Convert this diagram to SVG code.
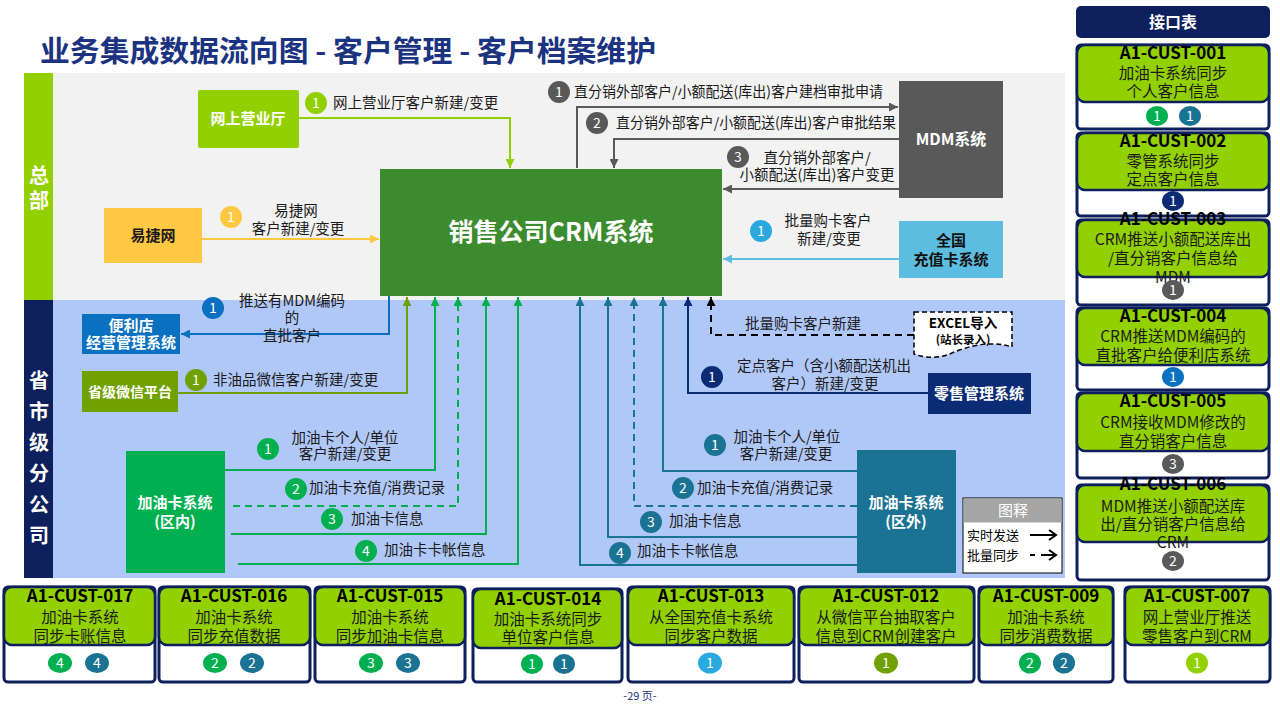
<svg xmlns="http://www.w3.org/2000/svg" width="1280" height="720" viewBox="0 0 1280 720">
<style>
text{font-family:"Noto Sans CJK SC","Microsoft YaHei",sans-serif}
.lbl{font-size:14.5px;fill:#1a1a1a}
.mid{text-anchor:middle}
.nt{font-size:15px;font-weight:bold;fill:#fff;text-anchor:middle}
.num{font-size:14px;fill:#fff;text-anchor:middle}
.code{font-size:17px;font-weight:bold;fill:#000;text-anchor:middle}
.ct{font-size:15.5px;fill:#1a1a1a;text-anchor:middle}
.outer{fill:#fff;stroke:#0d1f5c;stroke-width:3}
.inner{fill:#92d000;stroke:#0d1f5c;stroke-width:2.5}
.cn{fill:none;stroke-width:2}
.dash{stroke-dasharray:7 5}
</style>
<defs>
<marker id="mLime" viewBox="0 0 10 10" refX="10" refY="5" markerWidth="9" markerHeight="9" markerUnits="userSpaceOnUse" orient="auto"><path d="M0,0 L10,5 L0,10z" fill="#92d000"/></marker>
<marker id="mYel" viewBox="0 0 10 10" refX="10" refY="5" markerWidth="9" markerHeight="9" markerUnits="userSpaceOnUse" orient="auto"><path d="M0,0 L10,5 L0,10z" fill="#ffc843"/></marker>
<marker id="mGrey" viewBox="0 0 10 10" refX="10" refY="5" markerWidth="9" markerHeight="9" markerUnits="userSpaceOnUse" orient="auto"><path d="M0,0 L10,5 L0,10z" fill="#595959"/></marker>
<marker id="mSky" viewBox="0 0 10 10" refX="10" refY="5" markerWidth="9" markerHeight="9" markerUnits="userSpaceOnUse" orient="auto"><path d="M0,0 L10,5 L0,10z" fill="#5cbde0"/></marker>
<marker id="mBlue" viewBox="0 0 10 10" refX="10" refY="5" markerWidth="9" markerHeight="9" markerUnits="userSpaceOnUse" orient="auto"><path d="M0,0 L10,5 L0,10z" fill="#0a70c0"/></marker>
<marker id="mOlive" viewBox="0 0 10 10" refX="10" refY="5" markerWidth="9" markerHeight="9" markerUnits="userSpaceOnUse" orient="auto"><path d="M0,0 L10,5 L0,10z" fill="#70a100"/></marker>
<marker id="mGreen" viewBox="0 0 10 10" refX="10" refY="5" markerWidth="9" markerHeight="9" markerUnits="userSpaceOnUse" orient="auto"><path d="M0,0 L10,5 L0,10z" fill="#00b050"/></marker>
<marker id="mTeal" viewBox="0 0 10 10" refX="10" refY="5" markerWidth="9" markerHeight="9" markerUnits="userSpaceOnUse" orient="auto"><path d="M0,0 L10,5 L0,10z" fill="#1b7393"/></marker>
<marker id="mNavy" viewBox="0 0 10 10" refX="10" refY="5" markerWidth="9" markerHeight="9" markerUnits="userSpaceOnUse" orient="auto"><path d="M0,0 L10,5 L0,10z" fill="#0b2c75"/></marker>
<marker id="mBlack" viewBox="0 0 10 10" refX="10" refY="5" markerWidth="9" markerHeight="9" markerUnits="userSpaceOnUse" orient="auto"><path d="M0,0 L10,5 L0,10z" fill="#000"/></marker>
</defs>

<rect width="1280" height="720" fill="#fff"/>

<!-- title -->
<text x="40" y="62" font-size="29" font-weight="bold" fill="#1b3380" textLength="616" lengthAdjust="spacingAndGlyphs">业务集成数据流向图 - 客户管理 - 客户档案维护</text>

<!-- background zones -->
<g id="zones">
<rect x="53" y="73" width="1012" height="227" fill="#f2f2f2"/>
<rect x="53" y="300" width="1012" height="278" fill="#b0c8f8"/>
<rect x="24" y="73" width="29" height="227" fill="#92d000"/>
<rect x="24" y="300" width="29" height="278" fill="#0d1f5c"/>
<g font-size="20" font-weight="bold" fill="#fff" text-anchor="middle">
<text x="39" y="183">总</text>
<text x="39" y="208">部</text>
<text x="39" y="388">省</text>
<text x="39" y="419">市</text>
<text x="39" y="450">级</text>
<text x="39" y="481">分</text>
<text x="39" y="512">公</text>
<text x="39" y="543">司</text>
</g>
</g>

<!-- connectors -->
<g id="connectors">
<path class="cn" stroke="#92d000" d="M299,118 H510 V168" marker-end="url(#mLime)"/>
<path class="cn" stroke="#ffc843" d="M202,239 H379" marker-end="url(#mYel)"/>
<path class="cn" stroke="#595959" d="M577,168 V107 H898" marker-end="url(#mGrey)"/>
<path class="cn" stroke="#595959" d="M899,139 H614 V168" marker-end="url(#mGrey)"/>
<path class="cn" stroke="#595959" d="M899,189 H723" marker-end="url(#mGrey)"/>
<path class="cn" stroke="#5cbde0" d="M899,259 H723" marker-end="url(#mSky)"/>
<path class="cn" stroke="#0a70c0" d="M389,296 V334 H181" marker-end="url(#mBlue)"/>
<path class="cn" stroke="#70a100" d="M178,393 H407 V297" marker-end="url(#mOlive)"/>
<path class="cn" stroke="#00b050" d="M225,470 H435 V297" marker-end="url(#mGreen)"/>
<path class="cn dash" stroke="#00b050" d="M233,506 H458 V297" marker-end="url(#mGreen)"/>
<path class="cn" stroke="#00b050" d="M231,534 H486 V297" marker-end="url(#mGreen)"/>
<path class="cn" stroke="#00b050" d="M238,564 H518 V297" marker-end="url(#mGreen)"/>
<path class="cn" stroke="#1b7393" d="M857,471 H663 V297" marker-end="url(#mTeal)"/>
<path class="cn dash" stroke="#1b7393" d="M857,506 H634 V297" marker-end="url(#mTeal)"/>
<path class="cn" stroke="#1b7393" d="M857,537 H608 V297" marker-end="url(#mTeal)"/>
<path class="cn" stroke="#1b7393" d="M857,565 H580 V297" marker-end="url(#mTeal)"/>
<path class="cn" stroke="#0b2c75" d="M928,393 H688 V297" marker-end="url(#mNavy)"/>
<path class="cn dash" stroke="#000" d="M914,335 H711 V297" marker-end="url(#mBlack)"/>

<!-- connector labels -->
<circle cx="316" cy="103" r="11" fill="#92d000"/><text class="num" x="316" y="108">1</text>
<text class="lbl" x="333" y="108">网上营业厅客户新建/变更</text>

<circle cx="231" cy="217" r="11" fill="#ffc843"/><text class="num" x="231" y="222">1</text>
<text class="lbl mid" x="296" y="216">易捷网</text>
<text class="lbl mid" x="298" y="234">客户新建/变更</text>

<circle cx="559" cy="92" r="11" fill="#595959"/><text class="num" x="559" y="97">1</text>
<text class="lbl" x="574" y="97" textLength="309" lengthAdjust="spacingAndGlyphs">直分销外部客户/小额配送(库出)客户建档审批申请</text>
<circle cx="597" cy="123" r="11" fill="#595959"/><text class="num" x="597" y="128">2</text>
<text class="lbl" x="616" y="128" textLength="280" lengthAdjust="spacingAndGlyphs">直分销外部客户/小额配送(库出)客户审批结果</text>
<circle cx="738" cy="157" r="11" fill="#595959"/><text class="num" x="738" y="162">3</text>
<text class="lbl mid" x="817" y="163">直分销外部客户/</text>
<text class="lbl mid" x="817" y="180">小额配送(库出)客户变更</text>

<circle cx="761" cy="231" r="11" fill="#29a9e0"/><text class="num" x="761" y="236">1</text>
<text class="lbl mid" x="828" y="226">批量购卡客户</text>
<text class="lbl mid" x="829" y="244">新建/变更</text>

<circle cx="213" cy="308" r="11" fill="#0a70c0"/><text class="num" x="213" y="313">1</text>
<text class="lbl mid" x="292" y="306">推送有MDM编码</text>
<text class="lbl mid" x="292" y="323">的</text>
<text class="lbl mid" x="292" y="341">直批客户</text>

<circle cx="196" cy="380" r="11" fill="#70a100"/><text class="num" x="196" y="385">1</text>
<text class="lbl" x="213" y="385">非油品微信客户新建/变更</text>

<text class="lbl" x="745" y="329">批量购卡客户新建</text>

<circle cx="712" cy="377" r="11" fill="#0b2c75"/><text class="num" x="712" y="382">1</text>
<text class="lbl mid" x="824" y="371">定点客户（含小额配送机出</text>
<text class="lbl mid" x="825" y="389">客户）新建/变更</text>

<circle cx="268" cy="449" r="11" fill="#00b050"/><text class="num" x="268" y="454">1</text>
<text class="lbl mid" x="345" y="443">加油卡个人/单位</text>
<text class="lbl mid" x="345" y="459">客户新建/变更</text>
<circle cx="296" cy="489" r="11" fill="#00b050"/><text class="num" x="296" y="494">2</text>
<text class="lbl" x="309" y="493">加油卡充值/消费记录</text>
<circle cx="332" cy="519" r="11" fill="#00b050"/><text class="num" x="332" y="524">3</text>
<text class="lbl" x="351" y="524">加油卡信息</text>
<circle cx="366" cy="551" r="11" fill="#00b050"/><text class="num" x="366" y="556">4</text>
<text class="lbl" x="384" y="555">加油卡卡帐信息</text>

<circle cx="715" cy="445" r="11" fill="#1b7393"/><text class="num" x="715" y="450">1</text>
<text class="lbl mid" x="787" y="442">加油卡个人/单位</text>
<text class="lbl mid" x="786" y="459">客户新建/变更</text>
<circle cx="683" cy="488" r="11" fill="#1b7393"/><text class="num" x="683" y="493">2</text>
<text class="lbl" x="697" y="493">加油卡充值/消费记录</text>
<circle cx="651" cy="522" r="11" fill="#1b7393"/><text class="num" x="651" y="527">3</text>
<text class="lbl" x="669" y="526">加油卡信息</text>
<circle cx="620" cy="553" r="11" fill="#1b7393"/><text class="num" x="620" y="558">4</text>
<text class="lbl" x="637" y="556">加油卡卡帐信息</text>
</g>

<!-- nodes -->
<g id="n-wsyyt"><rect x="198" y="90" width="101" height="58" rx="2" fill="#92d000"/><text class="nt" x="248" y="124">网上营业厅</text></g>
<g id="n-yjw"><rect x="104" y="208" width="98" height="55" fill="#ffc843"/><text class="nt" x="153" y="241" style="fill:#1a1a1a">易捷网</text></g>
<g id="n-crm"><rect x="380" y="169" width="342" height="127" fill="#3d8b2f"/><text x="551" y="241" font-size="25" font-weight="bold" fill="#fff" text-anchor="middle">销售公司CRM系统</text></g>
<g id="n-mdm"><rect x="899" y="81" width="104" height="117" fill="#595959"/><text class="nt" x="951" y="145" style="font-size:16px">MDM系统</text></g>
<g id="n-qgczk"><rect x="899" y="221" width="104" height="57" fill="#5cbde0"/><text class="nt" x="951" y="246" style="fill:#111">全国</text><text class="nt" x="951" y="265" style="fill:#111">充值卡系统</text></g>
<g id="n-bld"><rect x="82" y="314" width="98" height="40" fill="#0a70c0"/><text class="nt" x="131" y="331">便利店</text><text class="nt" x="131" y="348">经营管理系统</text></g>
<g id="n-wx"><rect x="82" y="371" width="96" height="41" fill="#70a100"/><text class="nt" x="130" y="397" style="font-size:14px">省级微信平台</text></g>
<g id="n-ls"><rect x="928" y="373" width="103" height="41" fill="#0b2c75"/><text class="nt" x="979" y="399">零售管理系统</text></g>
<g id="n-excel"><path d="M914,312 H1012 V347 C990,340 968,346 952,353 C938,359 925,358 914,354 Z" fill="#fff" stroke="#000" stroke-width="1.5" stroke-dasharray="5 3"/><text x="963" y="328" font-size="13.5" font-weight="bold" fill="#000" text-anchor="middle">EXCEL导入</text><text x="963" y="344" font-size="11.5" font-weight="bold" fill="#000" text-anchor="middle">(站长录入)</text></g>
<g id="n-jykin"><rect x="126" y="451" width="99" height="122" fill="#00b050"/><text class="nt" x="175" y="508">加油卡系统</text><text class="nt" x="175" y="527">(区内)</text></g>
<g id="n-jykout"><rect x="857" y="450" width="99" height="123" fill="#1b7393"/><text class="nt" x="906" y="508">加油卡系统</text><text class="nt" x="906" y="527">(区外)</text></g>

<!-- legend -->
<g id="legend">
<rect x="963" y="498" width="99" height="75" fill="#fff" stroke="#000" stroke-width="1"/>
<rect x="963.5" y="498.5" width="98" height="24" fill="#a6a6a6"/>
<text x="1013" y="516" font-size="15" fill="#fff" text-anchor="middle">图释</text>
<text x="967" y="540" font-size="13" fill="#000">实时发送</text>
<text x="967" y="560" font-size="13" fill="#000">批量同步</text>
<path d="M1030,535 H1056 M1049,530 L1056,535 L1049,540" fill="none" stroke="#000" stroke-width="2"/>
<path d="M1030,555 H1035 M1041,555 H1056 M1049,550 L1056,555 L1049,560" fill="none" stroke="#000" stroke-width="2"/>
</g>

<!-- interface table -->
<g id="ifheader"><rect x="1076" y="6" width="194" height="32" rx="5" fill="#0d1f5c"/><text x="1173" y="28" font-size="16" font-weight="bold" fill="#fff" text-anchor="middle">接口表</text></g>

<g id="if-001"><rect class="outer" x="1077" y="45" width="192" height="84" rx="4"/><rect class="inner" x="1077" y="45" width="192" height="57" rx="8"/>
<text class="code" x="1173" y="59">A1-CUST-001</text><text class="ct" x="1173" y="79">加油卡系统同步</text><text class="ct" x="1173" y="97">个人客户信息</text>
<ellipse cx="1157" cy="116" rx="11" ry="10" fill="#00b050"/><text class="num" x="1157" y="121">1</text>
<ellipse cx="1190" cy="116" rx="11" ry="10" fill="#1b7393"/><text class="num" x="1190" y="121">1</text></g>

<g id="if-002"><rect class="outer" x="1077" y="133" width="192" height="83" rx="4"/><rect class="inner" x="1077" y="133" width="192" height="57" rx="8"/>
<text class="code" x="1173" y="147">A1-CUST-002</text><text class="ct" x="1173" y="167">零管系统同步</text><text class="ct" x="1173" y="185">定点客户信息</text>
<ellipse cx="1173" cy="201" rx="11" ry="10" fill="#0b2c75"/><text class="num" x="1173" y="206">1</text></g>

<g id="if-003"><rect class="outer" x="1077" y="220" width="192" height="85" rx="4"/><rect class="inner" x="1077" y="220" width="192" height="57" rx="8"/>
<text class="code" x="1173" y="225">A1-CUST-003</text><text class="ct" x="1173" y="245">CRM推送小额配送库出</text><text class="ct" x="1173" y="264">/直分销客户信息给</text><text class="ct" x="1173" y="283">MDM</text>
<ellipse cx="1173" cy="290" rx="11" ry="10" fill="#595959"/><text class="num" x="1173" y="295">1</text></g>

<g id="if-004"><rect class="outer" x="1077" y="308" width="192" height="82" rx="4"/><rect class="inner" x="1077" y="308" width="192" height="57" rx="8"/>
<text class="code" x="1173" y="322">A1-CUST-004</text><text class="ct" x="1173" y="342">CRM推送MDM编码的</text><text class="ct" x="1173" y="361">直批客户给便利店系统</text>
<ellipse cx="1173" cy="377" rx="11" ry="10" fill="#0a70c0"/><text class="num" x="1173" y="382">1</text></g>

<g id="if-005"><rect class="outer" x="1077" y="393" width="192" height="85" rx="4"/><rect class="inner" x="1077" y="393" width="192" height="58" rx="8"/>
<text class="code" x="1173" y="407">A1-CUST-005</text><text class="ct" x="1173" y="428">CRM接收MDM修改的</text><text class="ct" x="1173" y="447">直分销客户信息</text>
<ellipse cx="1173" cy="464" rx="11" ry="10" fill="#595959"/><text class="num" x="1173" y="469">3</text></g>

<g id="if-006"><rect class="outer" x="1077" y="485" width="192" height="95" rx="4"/><rect class="inner" x="1077" y="485" width="192" height="57" rx="8"/>
<text class="code" x="1173" y="490">A1-CUST-006</text><text class="ct" x="1173" y="512">MDM推送小额配送库</text><text class="ct" x="1173" y="530">出/直分销客户信息给</text><text class="ct" x="1173" y="548">CRM</text>
<ellipse cx="1173" cy="561" rx="11" ry="10" fill="#595959"/><text class="num" x="1173" y="566">2</text></g>

<!-- bottom cards -->
<g id="if-017"><rect class="outer" x="4" y="587" width="151" height="95" rx="4"/><rect class="inner" x="4" y="587" width="151" height="58" rx="8"/>
<text class="code" x="80" y="602">A1-CUST-017</text><text class="ct" x="80" y="623">加油卡系统</text><text class="ct" x="80" y="642">同步卡账信息</text>
<ellipse cx="60" cy="663" rx="12" ry="10" fill="#00b050"/><text class="num" x="60" y="668">4</text>
<ellipse cx="97" cy="663" rx="12" ry="10" fill="#1b7393"/><text class="num" x="97" y="668">4</text></g>

<g id="if-016"><rect class="outer" x="159" y="587" width="151" height="95" rx="4"/><rect class="inner" x="159" y="587" width="151" height="58" rx="8"/>
<text class="code" x="234" y="602">A1-CUST-016</text><text class="ct" x="234" y="623">加油卡系统</text><text class="ct" x="234" y="642">同步充值数据</text>
<ellipse cx="215" cy="663" rx="12" ry="10" fill="#00b050"/><text class="num" x="215" y="668">2</text>
<ellipse cx="252" cy="663" rx="12" ry="10" fill="#1b7393"/><text class="num" x="252" y="668">2</text></g>

<g id="if-015"><rect class="outer" x="315" y="587" width="150" height="95" rx="4"/><rect class="inner" x="315" y="587" width="150" height="58" rx="8"/>
<text class="code" x="390" y="602">A1-CUST-015</text><text class="ct" x="390" y="623">加油卡系统</text><text class="ct" x="390" y="642">同步加油卡信息</text>
<ellipse cx="371" cy="663" rx="12" ry="10" fill="#00b050"/><text class="num" x="371" y="668">3</text>
<ellipse cx="408" cy="663" rx="12" ry="10" fill="#1b7393"/><text class="num" x="408" y="668">3</text></g>

<g id="if-014"><rect class="outer" x="473" y="589" width="149" height="93" rx="4"/><rect class="inner" x="473" y="589" width="149" height="59" rx="8"/>
<text class="code" x="548" y="605">A1-CUST-014</text><text class="ct" x="548" y="625">加油卡系统同步</text><text class="ct" x="548" y="643">单位客户信息</text>
<ellipse cx="532" cy="664" rx="11" ry="10" fill="#00b050"/><text class="num" x="532" y="669">1</text>
<ellipse cx="564" cy="664" rx="11" ry="10" fill="#1b7393"/><text class="num" x="564" y="669">1</text></g>

<g id="if-013"><rect class="outer" x="628" y="587" width="166" height="95" rx="4"/><rect class="inner" x="628" y="587" width="166" height="58" rx="8"/>
<text class="code" x="711" y="602">A1-CUST-013</text><text class="ct" x="711" y="623">从全国充值卡系统</text><text class="ct" x="711" y="642">同步客户数据</text>
<ellipse cx="710" cy="663" rx="12" ry="10.5" fill="#29a9e0"/><text class="num" x="710" y="668">1</text></g>

<g id="if-012"><rect class="outer" x="799" y="587" width="175" height="95" rx="4"/><rect class="inner" x="799" y="587" width="175" height="58" rx="8"/>
<text class="code" x="886" y="602">A1-CUST-012</text><text class="ct" x="886" y="623">从微信平台抽取客户</text><text class="ct" x="886" y="642">信息到CRM创建客户</text>
<ellipse cx="886" cy="663" rx="12" ry="10.5" fill="#70a100"/><text class="num" x="886" y="668">1</text></g>

<g id="if-009"><rect class="outer" x="979" y="587" width="134" height="95" rx="4"/><rect class="inner" x="979" y="587" width="134" height="58" rx="8"/>
<text class="code" x="1046" y="602">A1-CUST-009</text><text class="ct" x="1046" y="623">加油卡系统</text><text class="ct" x="1046" y="642">同步消费数据</text>
<ellipse cx="1030" cy="663" rx="11" ry="10.5" fill="#00b050"/><text class="num" x="1030" y="668">2</text>
<ellipse cx="1064" cy="663" rx="11" ry="10.5" fill="#1b7393"/><text class="num" x="1064" y="668">2</text></g>

<g id="if-007"><rect class="outer" x="1125" y="587" width="145" height="95" rx="4"/><rect class="inner" x="1125" y="587" width="145" height="58" rx="8"/>
<text class="code" x="1197" y="602">A1-CUST-007</text><text class="ct" x="1197" y="623">网上营业厅推送</text><text class="ct" x="1197" y="642">零售客户到CRM</text>
<ellipse cx="1197" cy="663" rx="11" ry="10.5" fill="#92d000"/><text class="num" x="1197" y="668">1</text></g>

<text x="640" y="700" font-size="11" fill="#1b3380" text-anchor="middle">-29 页-</text>
</svg>
